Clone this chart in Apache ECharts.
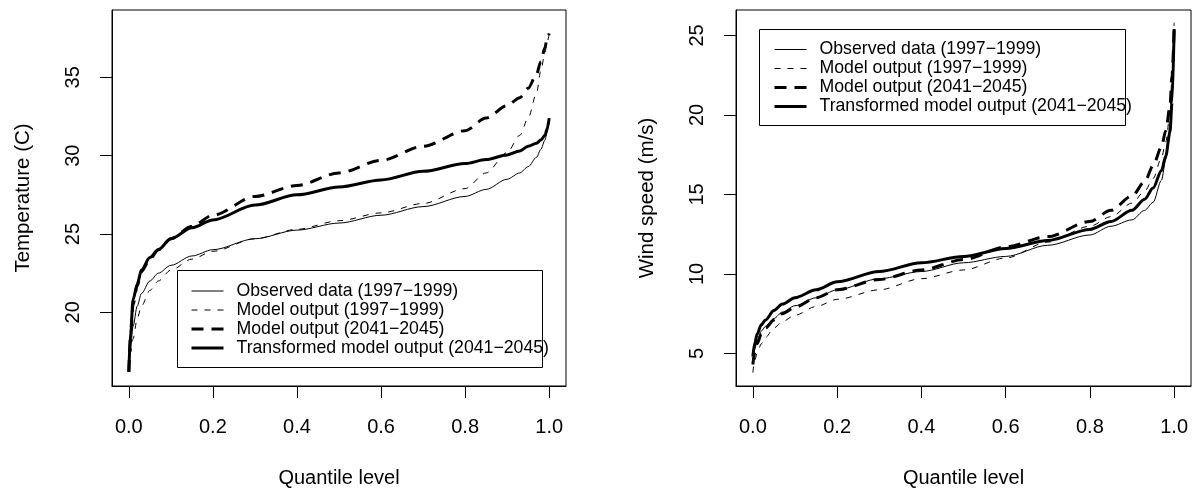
<!DOCTYPE html>
<html>
<head>
<meta charset="utf-8">
<title>Quantile curves</title>
<script src="https://cdn.jsdelivr.net/npm/echarts@6/dist/echarts.min.js"></script>
<style>
  html, body { margin: 0; padding: 0; background: #ffffff; }
  #chart { width: 1198px; height: 493px; }
</style>
</head>
<body>
<div id="chart"></div>
<script>
// quantile levels shared by both panels
var quantiles = [0, 0.005, 0.01, 0.02, 0.03, 0.05, 0.07, 0.1, 0.15, 0.2, 0.3, 0.4, 0.5,
                 0.6, 0.7, 0.8, 0.85, 0.9, 0.93, 0.95, 0.97, 0.98, 0.99, 0.995, 1];

var seriesNames = [
  'Observed data (1997\u22121999)',
  'Model output (1997\u22121999)',
  'Model output (2041\u22122045)',
  'Transformed model output (2041\u22122045)'
];

// temperature (C)
var tempObserved   = [16.3, 18.0, 19.1, 20.4, 21.2, 22.0, 22.5, 23.0, 23.6, 24.0, 24.7, 25.25, 25.7,
                      26.2, 26.75, 27.4, 27.85, 28.5, 28.9, 29.3, 29.9, 30.4, 31.0, 31.5, 32.2];
var tempModelPast  = [16.5, 17.5, 18.3, 19.6, 20.4, 21.4, 22.0, 22.7, 23.4, 23.9, 24.7, 25.3, 25.85,
                      26.35, 26.95, 27.9, 28.9, 30.2, 31.3, 32.4, 34.0, 35.4, 36.6, 37.2, 37.8];
var tempModelFut   = [16.2, 18.8, 20.5, 21.7, 22.6, 23.4, 24.0, 24.7, 25.5, 26.2, 27.4, 28.1, 28.9,
                      29.7, 30.6, 31.6, 32.4, 33.2, 33.7, 34.3, 35.2, 36.0, 36.9, 37.5, 37.8];
var tempTransf     = [16.2, 19.0, 20.8, 21.8, 22.7, 23.5, 24.0, 24.7, 25.4, 25.9, 26.85, 27.5, 28.0,
                      28.45, 29.0, 29.5, 29.75, 30.05, 30.3, 30.6, 30.8, 31.0, 31.3, 31.7, 32.4];

// wind speed (m/s)
var windObserved   = [4.5, 5.3, 5.8, 6.4, 6.7, 7.2, 7.6, 8.0, 8.5, 9.0, 9.7, 10.15, 10.7,
                      11.1, 11.8, 12.45, 13.0, 13.4, 14.0, 14.5, 15.9, 17.2, 19.3, 21.2, 24.8];
var windModelPast  = [3.8, 4.6, 5.0, 5.6, 6.0, 6.6, 7.0, 7.4, 7.95, 8.4, 9.0, 9.7, 10.25,
                      11.0, 12.0, 13.0, 13.6, 14.45, 15.2, 16.0, 17.3, 18.3, 20.0, 22.5, 25.8];
var windModelFut   = [4.3, 5.1, 5.6, 6.2, 6.6, 7.1, 7.5, 7.9, 8.5, 9.0, 9.65, 10.25, 10.9,
                      11.7, 12.35, 13.3, 14.0, 14.9, 15.8, 16.8, 18.0, 19.0, 20.5, 22.5, 25.4];
var windTransf     = [4.8, 5.7, 6.2, 6.8, 7.1, 7.7, 8.1, 8.5, 9.0, 9.5, 10.15, 10.7, 11.1,
                      11.6, 12.1, 12.8, 13.3, 14.0, 14.7, 15.4, 16.5, 17.4, 18.9, 20.8, 25.4];

// axis ticks
var xTicks = [0, 0.2, 0.4, 0.6, 0.8, 1.0];
var tempTicks = [20, 25, 30, 35];
var windTicks = [5, 10, 15, 20, 25];

var font = "'Liberation Sans', Arimo, Arial, sans-serif";

// line styles: thin solid, thin dashed, thick dashed, thick solid
var lineStyles = [
  { color: '#000', width: 1, type: 'solid' },
  { color: '#000', width: 1, type: [6, 7] },
  { color: '#000', width: 3, type: [12, 8] },
  { color: '#000', width: 3, type: 'solid' }
];

function pairs(xs, ys) {
  return xs.map(function (q, i) { return [q, ys[i]]; });
}

function makeSeries(idx, values) {
  return values.map(function (vals, k) {
    return {
      name: seriesNames[k],
      type: 'line',
      xAxisIndex: idx,
      yAxisIndex: idx,
      data: pairs(quantiles, vals),
      symbol: 'none',
      smooth: 0.3,
      smoothMonotone: 'x',
      itemStyle: { color: '#000' },
      lineStyle: lineStyles[k],
      silent: true,
      animation: false
    };
  });
}

function xAxis(idx) {
  return {
    type: 'value',
    gridIndex: idx,
    min: -0.04,
    max: 1.04,
    name: 'Quantile level',
    nameLocation: 'middle',
    nameGap: 82,
    nameTextStyle: { fontSize: 20, color: '#000', fontFamily: font },
    axisLine: { show: true, onZero: false, lineStyle: { color: '#000', width: 1 } },
    axisTick: { show: true, length: 12, customValues: xTicks, lineStyle: { color: '#000' } },
    axisLabel: {
      customValues: xTicks,
      margin: 31,
      fontSize: 20,
      color: '#000',
      fontFamily: font,
      formatter: function (v) { return v.toFixed(1); }
    },
    splitLine: { show: false }
  };
}

function yAxis(idx, min, max, ticks, title) {
  return {
    type: 'value',
    gridIndex: idx,
    min: min,
    max: max,
    name: title,
    nameLocation: 'middle',
    nameGap: 78,
    nameTextStyle: { fontSize: 20.5, color: '#000', fontFamily: font },
    axisLine: { show: true, onZero: false, lineStyle: { color: '#000', width: 1 } },
    axisTick: { show: true, length: 12, customValues: ticks, lineStyle: { color: '#000' } },
    axisLabel: {
      customValues: ticks,
      rotate: 90,
      margin: 29,
      fontSize: 20,
      color: '#000',
      fontFamily: font
    },
    splitLine: { show: false }
  };
}

function legend(left, top) {
  return {
    data: seriesNames.map(function (n, k) {
      return { name: n, lineStyle: { width: lineStyles[k].width, type: lineStyles[k].type, color: '#000' } };
    }),
    orient: 'vertical',
    left: left,
    top: top,
    padding: 0,
    itemGap: 0,
    itemWidth: 32,
    itemHeight: 14,
    selectedMode: false,
    itemStyle: { opacity: 0 },
    textStyle: { fontSize: 17.7, lineHeight: 19, color: '#000', fontFamily: font, padding: [0, 0, 0, 8] }
  };
}

var chart = echarts.init(document.getElementById('chart'));
chart.setOption({
  backgroundColor: '#ffffff',
  animation: false,
  grid: [
    { left: 112, top: 10, width: 454, height: 376, show: true, borderColor: '#000', borderWidth: 1 },
    { left: 736, top: 10, width: 455, height: 376, show: true, borderColor: '#000', borderWidth: 1 }
  ],
  xAxis: [xAxis(0), xAxis(1)],
  yAxis: [
    yAxis(0, 15.3, 39.3, tempTicks, 'Temperature (C)'),
    yAxis(1, 2.95, 26.6, windTicks, 'Wind speed (m/s)')
  ],
  legend: [legend(190, 281.5), legend(773, 40)],
  graphic: [
    { type: 'rect', shape: { x: 177.5, y: 270.5, width: 365, height: 97 },
      style: { fill: 'none', stroke: '#000', lineWidth: 1 } },
    { type: 'rect', shape: { x: 759.5, y: 29.5, width: 366, height: 96 },
      style: { fill: 'none', stroke: '#000', lineWidth: 1 } }
  ],
  series: makeSeries(0, [tempObserved, tempModelPast, tempModelFut, tempTransf])
    .concat(makeSeries(1, [windObserved, windModelPast, windModelFut, windTransf]))
});
</script>
</body>
</html>
